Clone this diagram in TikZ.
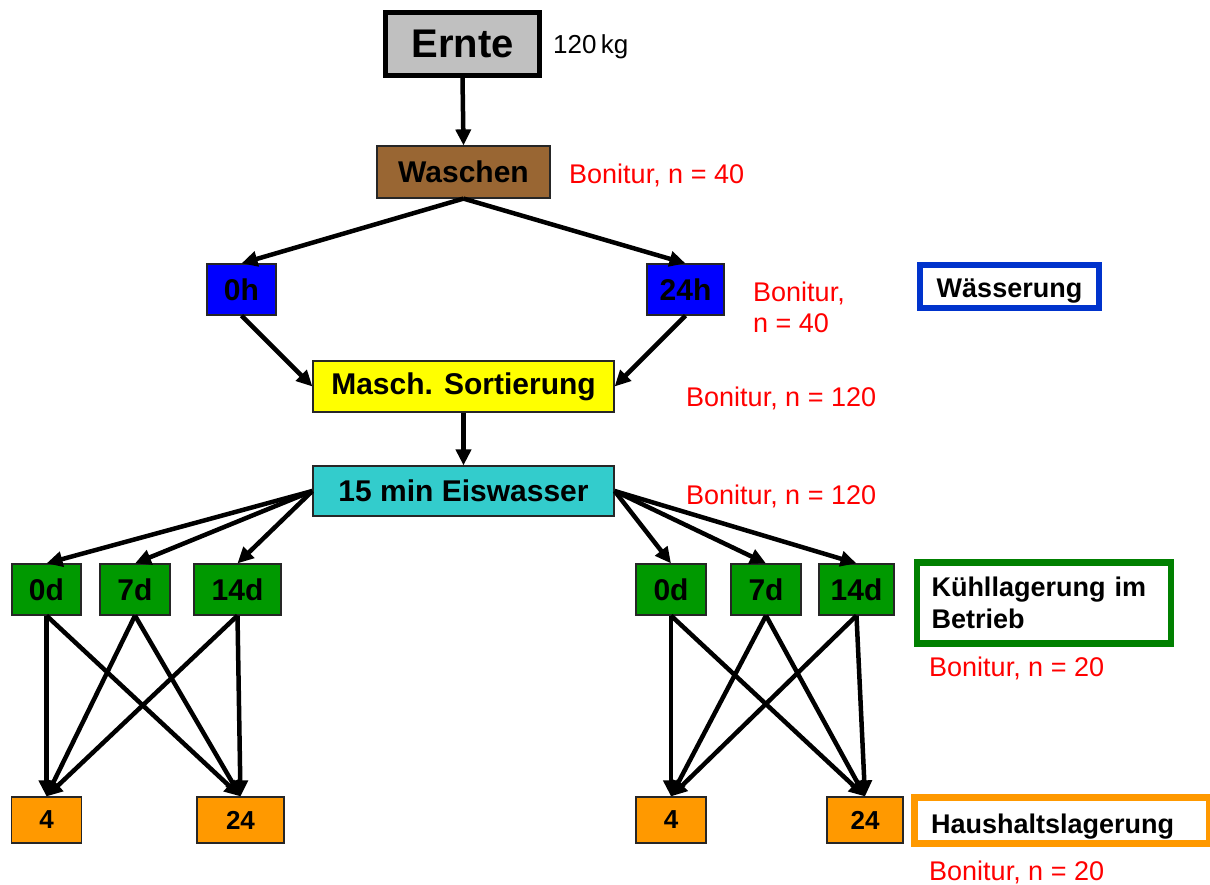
\documentclass[tikz,border=0pt]{standalone}
\usepackage{fontspec}
\setmainfont{Liberation Sans}
\usetikzlibrary{arrows.meta}
\definecolor{cgray}{HTML}{C0C0C0}
\definecolor{cbrown}{HTML}{996633}
\definecolor{cblue}{HTML}{0000FF}
\definecolor{cyellow}{HTML}{FFFF00}
\definecolor{ccyan}{HTML}{33CCCC}
\definecolor{cgreen}{HTML}{009900}
\definecolor{corange}{HTML}{FF9900}
\definecolor{lblue}{HTML}{0033CC}
\definecolor{lgreen}{HTML}{008000}
\definecolor{cred}{HTML}{FF0000}
\tikzset{
  box/.style={draw=black!85, line width=1.2pt, inner sep=0pt, font=\bfseries\fontsize{30}{35}\selectfont},
  obox/.style={box, fill=corange, minimum height=46pt, font=\bfseries\fontsize{26}{31}\selectfont},
  gbox/.style={box, fill=cgreen, minimum height=51pt},
  legend/.style={draw, line width=6.5pt, fill=white, inner sep=0pt, font=\bfseries\fontsize{27}{32}\selectfont},
  note/.style={text=cred, anchor=west, inner sep=0pt, font=\fontsize{27}{31}\selectfont, align=left},
  arr/.style={line width=4.5pt, -{Triangle[length=16pt,width=15pt]}}
}
\begin{document}
\begin{tikzpicture}[x=1pt,y=-1pt]
\useasboundingbox (0,0) rectangle (1210,885);
% main chain
\node[box, fill=cgray, line width=5pt, draw=black, minimum width=154pt, minimum height=63pt, font=\bfseries\fontsize{40}{46}\selectfont] (ernte) at (462.5,44) {Ernte};
\node[anchor=west, inner sep=0pt, font=\fontsize{26}{30}\selectfont] (kg) at (553,47) {120\,kg};
\node[box, fill=cbrown, minimum width=173pt, minimum height=52pt] (waschen) at (463.5,172) {Waschen};
\node[box, fill=cblue, minimum width=69pt, minimum height=51pt] (h0) at (241.5,289.5) {0h};
\node[box, fill=cblue, minimum width=77pt, minimum height=51pt] (h24) at (685.5,289.5) {24h};
\node[box, fill=cyellow, minimum width=301pt, minimum height=51pt] (masch) at (463.5,386.5) {Masch. Sortierung};
\node[box, fill=ccyan, minimum width=301pt, minimum height=50pt] (eis) at (463.5,491) {15 min Eiswasser};
% green storage
\node[gbox, minimum width=69pt] (gL0) at (46.5,589.5) {0d};
\node[gbox, minimum width=70pt] (gL7) at (135,589.5) {7d};
\node[gbox, minimum width=87pt] (gL14) at (237.5,589.5) {14d};
\node[gbox, minimum width=70pt] (gR0) at (671,589.5) {0d};
\node[gbox, minimum width=70pt] (gR7) at (766,589.5) {7d};
\node[gbox, minimum width=75pt] (gR14) at (856.5,589.5) {14d};
% orange household
\node[obox, minimum width=70pt] (oL4) at (46.5,820) {4};
\node[obox, minimum width=87pt] (oL24) at (240.5,820) {24};
\node[obox, minimum width=70pt] (oR4) at (671,820) {4};
\node[obox, minimum width=76pt] (oR24) at (865,820) {24};
% legends
\node[legend, draw=lblue, minimum width=179pt, minimum height=43pt, text height=23pt, text depth=0pt] (wass) at (1009.5,286.5) {Wässerung};
\node[legend, draw=lgreen, minimum width=249pt, minimum height=81pt, text width=225pt, inner xsep=14.5pt, align=left] (kuehl) at (1044,603) {Kühllagerung im\\Betrieb};
\node[legend, draw=corange, minimum width=285pt, minimum height=46pt, text width=262pt, inner xsep=16.5pt, align=left, text height=25pt, text depth=0pt] (haus) at (1062,820.5) {Haushaltslagerung};
% notes
\node[note] (n1) at (569,175) {Bonitur, n = 40};
\node[note] (n2) at (753,307) {Bonitur,\\n = 40};
\node[note] (n3) at (686,398) {Bonitur, n = 120};
\node[note] (n4) at (686,496) {Bonitur, n = 120};
\node[note] (n5) at (929,668) {Bonitur, n = 20};
\node[note] (n6) at (929,872) {Bonitur, n = 20};
% arrows
\draw[arr] (ernte.south) -- (waschen.north);
\draw[arr] (waschen.south) -- (h0.north);
\draw[arr] (waschen.south) -- (h24.north);
\draw[arr] (h0.south) -- (masch.west);
\draw[arr] (h24.south) -- (masch.east);
\draw[arr] (masch.south) -- (eis.north);
\foreach \g in {gL0,gL7,gL14}{\draw[arr] (eis.west) -- (\g.north);}
\foreach \g in {gR0,gR7,gR14}{\draw[arr] (eis.east) -- (\g.north);}
\foreach \g in {gL0,gL7,gL14}{
  \draw[arr] (\g.south) -- (oL4.north);
  \draw[arr] (\g.south) -- (oL24.north);}
\foreach \g in {gR0,gR7,gR14}{
  \draw[arr] (\g.south) -- (oR4.north);
  \draw[arr] (\g.south) -- (oR24.north);}
\end{tikzpicture}
\end{document}
